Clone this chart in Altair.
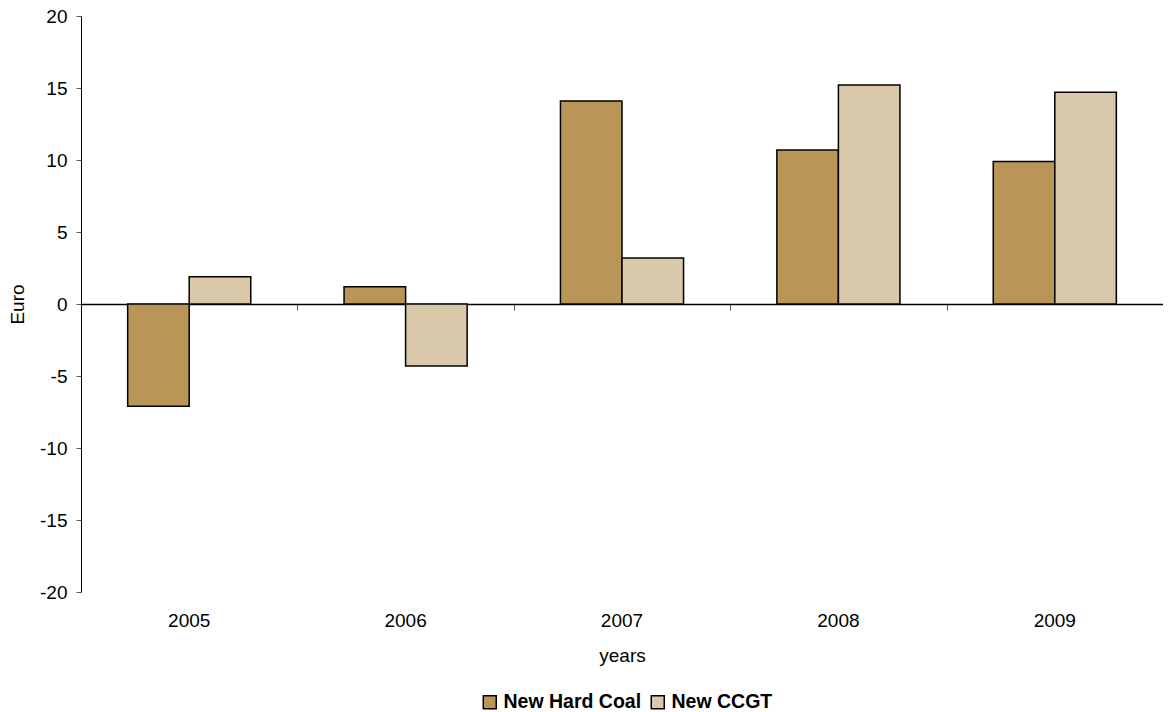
import altair as alt
import pandas as pd

years = ["2005", "2006", "2007", "2008", "2009"]
series = ["New Hard Coal", "New CCGT"]
hard_coal = [-7.1, 1.2, 14.1, 10.7, 9.9]
ccgt = [1.9, -4.3, 3.2, 15.2, 14.7]
colors = ["#B99558", "#D9C8AA"]
y_ticks = [-20, -15, -10, -5, 0, 5, 10, 15, 20]

rows = []
for i, y in enumerate(years):
    rows.append({"year": y, "series": series[0], "value": hard_coal[i]})
    rows.append({"year": y, "series": series[1], "value": ccgt[i]})
df = pd.DataFrame(rows)

FONT = "Liberation Sans"
W, H = 1082, 576

xscale = alt.Scale(paddingInner=0, paddingOuter=0)

bars = alt.Chart(df).mark_bar(stroke="black", strokeWidth=1.5).encode(
    x=alt.X("year:N", sort=years, scale=xscale,
            axis=alt.Axis(orient="bottom", domain=False, ticks=False, labelAngle=0,
                          labelPadding=19, labelFontSize=19, labelFont=FONT,
                          labelColor="black", title="years", titleFont=FONT,
                          titleFontSize=19, titleFontWeight="normal",
                          titleColor="black", titlePadding=16)),
    xOffset=alt.XOffset("series:N", sort=series,
                        scale=alt.Scale(paddingOuter=0.758, paddingInner=0)),
    y=alt.Y("value:Q", scale=alt.Scale(domain=[-20, 20], nice=False, zero=False),
            axis=alt.Axis(values=y_ticks, grid=False, domainColor="black",
                          domainWidth=1, tickColor="#555", tickSize=5,
                          labelPadding=9, labelFontSize=19, labelFont=FONT,
                          labelColor="black", labelExpr="'' + datum.value",
                          title="Euro", titleFont=FONT, titleFontSize=19,
                          titleFontWeight="normal", titleColor="black",
                          titlePadding=12)),
    color=alt.Color("series:N", sort=series,
                    scale=alt.Scale(domain=series, range=colors),
                    legend=alt.Legend(orient="none", legendX=399, legendY=676,
                                      direction="horizontal", title=None,
                                      labelFont=FONT, labelFontSize=19.5,
                                      labelFontWeight="bold", labelColor="black",
                                      symbolType="square", symbolSize=169,
                                      symbolStrokeColor="black",
                                      symbolStrokeWidth=1.5, symbolOpacity=1,
                                      labelOffset=4, columnPadding=6)),
)

zero_axis = alt.Chart(df).mark_tick(opacity=0).encode(
    x=alt.X("year:N", sort=years, scale=xscale,
            axis=alt.Axis(orient="bottom", offset=-H / 2, labels=False,
                          domainColor="black", domainWidth=1.5,
                          tickColor="#555", tickSize=6, tickBand="extent",
                          title=None)),
)

chart = alt.layer(bars, zero_axis).resolve_axis(x="independent").properties(
    width=W, height=H,
    autosize=alt.AutoSizeParams(type="none"),
    padding={"left": 73, "top": 8, "right": 0, "bottom": 119},
).configure_view(stroke=None)

chart.save("out.html", embed_options={"renderer": "svg", "actions": False})
